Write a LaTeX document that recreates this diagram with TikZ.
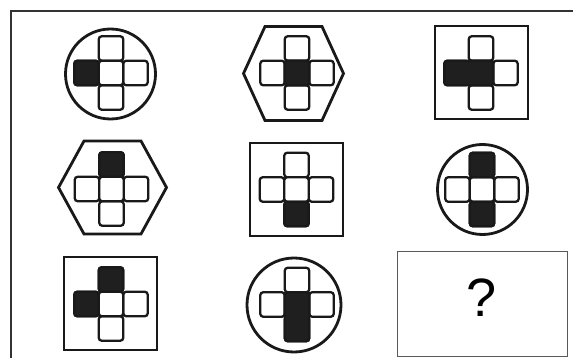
\documentclass[tikz,border=0pt]{standalone}
\usepackage{fontspec}
\newfontfamily\qfont{Liberation Sans}
\def\cs{24.5}
\tikzset{
  frameline/.style={line width=1.6pt, draw=black!80},
  outl/.style={line width=2.8pt, draw=black!90, line join=miter},
  cellw/.style={line width=2.3pt, draw=black!90, fill=white, rounded corners=3pt},
  cellb/.style={cellw, fill=black!88},
  qbox/.style={line width=1.6pt, draw=black!65},
}
% cross of five cells centred at (#1,#2)
\newcommand\mycross[2]{%
  \foreach \dx/\dy in {0/-1,-1/0,1/0,0/1,0/0}{%
    \draw[cellw] ({#1+(\dx-0.5)*\cs},{#2+(\dy-0.5)*\cs}) rectangle ++(\cs,\cs);}}
% black block from cell (#3,#4) to cell (#5,#6) of cross at (#1,#2)
\newcommand\blk[6]{%
  \draw[cellb] ({#1+(#3-0.5)*\cs},{#2+(#4-0.5)*\cs}) rectangle ({#1+(#5+0.5)*\cs},{#2+(#6+0.5)*\cs});}
% hexagon: centre, half width, half height, half top
\newcommand\hexa[5]{%
  \draw[outl] ({#1-#3},#2) -- ({#1-#5},{#2-#4}) -- ({#1+#5},{#2-#4}) -- ({#1+#3},#2)
    -- ({#1+#5},{#2+#4}) -- ({#1-#5},{#2+#4}) -- cycle;}
\newcommand\sqr[3]{%
  \draw[outl] ({#1-#3},{#2-#3}) rectangle ({#1+#3},{#2+#3});}
\begin{document}
\begin{tikzpicture}[x=1pt,y=-1pt]
\useasboundingbox[fill=white] (0,0) rectangle (573,358);
\draw[frameline] (11,358) -- (11,11) -- (573,11);
% row 1
\draw[outl] (110.5,74) circle[radius=45pt];
\mycross{111}{73}\blk{111}{73}{-1}{0}{-1}{0}
\hexa{293.5}{73.5}{50}{47}{28.5}
\mycross{297}{73}\blk{297}{73}{0}{0}{0}{0}
\sqr{481.5}{72.5}{46.5}
\mycross{481}{73}\blk{481}{73}{-1}{0}{0}{0}
% row 2
\hexa{112.5}{187.5}{54}{46.5}{28.5}
\mycross{111.5}{189}\blk{111.5}{189}{0}{-1}{0}{-1}
\sqr{296.5}{189.5}{46.5}
\mycross{296.5}{189.5}\blk{296.5}{189.5}{0}{1}{0}{1}
\draw[outl] (482.5,189.5) circle[radius=45pt];
\mycross{482}{189.5}\blk{482}{189.5}{0}{-1}{0}{-1}\blk{482}{189.5}{0}{1}{0}{1}
% row 3
\sqr{110.5}{303.5}{46.5}
\mycross{111}{304}\blk{111}{304}{0}{-1}{0}{-1}\blk{111}{304}{-1}{0}{-1}{0}
\draw[outl] (294,305) circle[radius=47pt];
\mycross{297}{304.5}\blk{297}{304.5}{0}{0}{0}{1}
% answer box
\draw[qbox] (397.5,251.5) rectangle (567.5,356.5);
\node[inner sep=0pt] (q) at (482,298) {\qfont\fontsize{54}{60}\selectfont ?};
\end{tikzpicture}
\end{document}
